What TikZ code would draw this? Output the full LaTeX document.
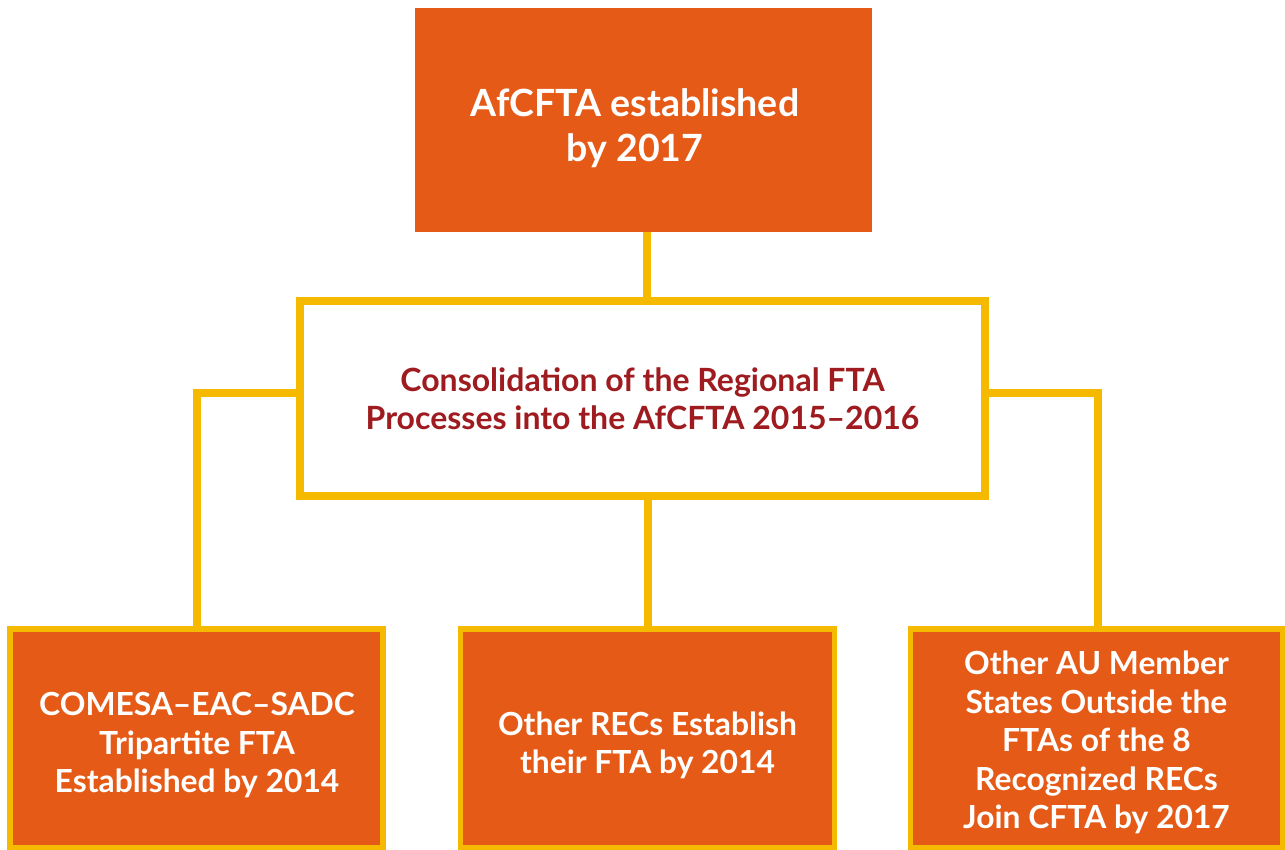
\documentclass[tikz,border=0pt]{standalone}
\usepackage{fontspec}
\setmainfont{Lato}
\definecolor{orng}{HTML}{E55A17}
\definecolor{yel}{HTML}{F5BA00}
\definecolor{dred}{HTML}{9E1B1F}
\begin{document}
\begin{tikzpicture}[x=1pt,y=-1pt,
  obox/.style={fill=orng,draw=yel,line width=5.5pt,inner sep=0pt,
    minimum width=373pt,minimum height=219pt},
  otext/.style={text=white,align=center,inner sep=0pt,font=\bfseries\fontsize{31.8}{38.5}\selectfont},
  conn/.style={draw=yel,line width=8pt}]
\useasboundingbox (0,0) rectangle (1285,850);
\node[fill=orng,inner sep=0pt,minimum width=457pt,minimum height=224pt] (top) at (643.5,120) {};
\node[text=white,align=center,inner sep=0pt,font=\bfseries\fontsize{37.5}{45}\selectfont]
  (toptext) at (635,128) {AfCFTA established\\by 2017};
\node[fill=white,draw=yel,line width=8pt,text=dred,align=center,inner sep=0pt,
  minimum width=685pt,minimum height=195pt,font=\bfseries\fontsize{32}{37.5}\selectfont]
  (mid) at (642.5,398.5) {Consolidation of the Regional FTA\\Processes into the AfCFTA 2015--2016};
\node[obox] (bl) at (196.5,738.5) {};
\node[obox,minimum width=374pt] (bm) at (647.5,738.5) {};
\node[obox,minimum width=372pt] (br) at (1096.5,738.5) {};
\node[otext] (blt) at (197,745.5) {COMESA--EAC--SADC\\Tripartite FTA\\Established by 2014};
\node[otext] (bmt) at (647.5,745.5) {Other RECs Establish\\their FTA by 2014};
\node[otext] (brt) at (1096.5,742.5) {Other AU Member\\States Outside the\\FTAs of the 8\\Recognized RECs\\Join CFTA by 2017};
\draw[conn] ([xshift=3.5pt]top.south) -- ([xshift=4.5pt]mid.north);
\draw[conn] ([yshift=6pt]mid.west) -| (bl.north);
\draw[conn] ([yshift=6pt]mid.east) -| ([xshift=1.5pt]br.north);
\draw[conn] (mid.south -| bm.north) -- (bm.north);
\end{tikzpicture}
\end{document}
